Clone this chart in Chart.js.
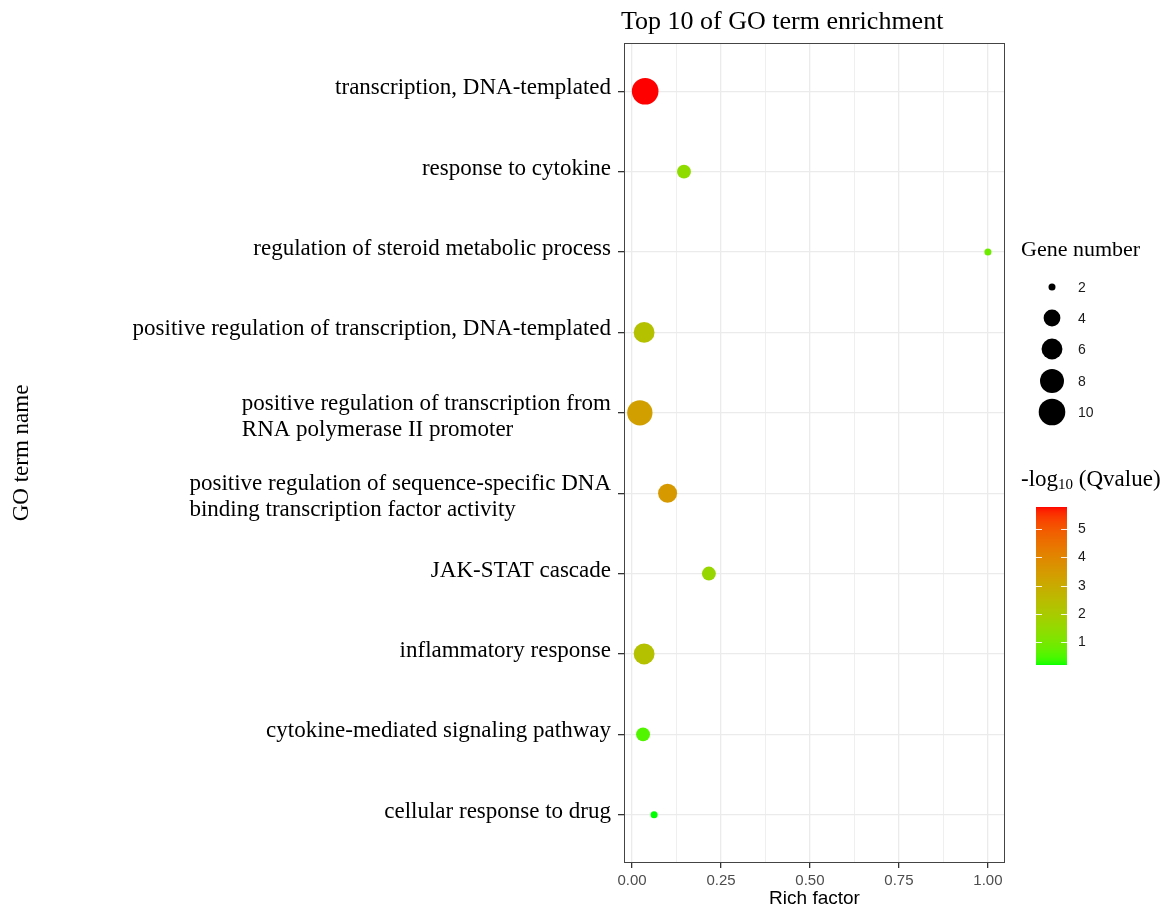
<!DOCTYPE html>
<html>
<head>
<meta charset="utf-8">
<script src="https://cdn.jsdelivr.net/npm/chart.js@4.4.1/dist/chart.umd.min.js"></script>
<style>
  html, body { margin: 0; padding: 0; background: #fff; }
</style>
</head>
<body>
<canvas id="goChart" width="1171" height="911"></canvas>
<script>
// GO terms, top to bottom ("\n" = line break in the axis label)
const terms = [
  'transcription, DNA-templated',
  'response to cytokine',
  'regulation of steroid metabolic process',
  'positive regulation of transcription, DNA-templated',
  'positive regulation of transcription from\nRNA polymerase II promoter',
  'positive regulation of sequence-specific DNA\nbinding transcription factor activity',
  'JAK-STAT cascade',
  'inflammatory response',
  'cytokine-mediated signaling pathway',
  'cellular response to drug'
];
const richFactor = [0.037, 0.146, 1.0, 0.034, 0.022, 0.100, 0.216, 0.034, 0.031, 0.062];
const geneNumber = [10, 3, 2, 6, 9, 5, 3, 6, 3, 2];
const qValue = [5.78, 1.4, 0.85, 2.3, 3.3, 3.5, 1.6, 2.3, 0.55, 0.19];

const xTickLabels = [0, 0.25, 0.5, 0.75, 1];
const sizeBreaks = [2, 4, 6, 8, 10];
const colorBreaks = [1, 2, 3, 4, 5];

const qMin = Math.min(...qValue), qMax = Math.max(...qValue);
const gMin = Math.min(...geneNumber), gMax = Math.max(...geneNumber);

// size scale (area style, like ggplot scale_size)
function radius(g) {
  return 3.5 + 9.8 * Math.sqrt((g - gMin) / (gMax - gMin));
}

// green -> red gradient interpolated in CIELAB
function toLab(r, g, b) {
  const lin = c => { c /= 255; return c <= 0.04045 ? c / 12.92 : Math.pow((c + 0.055) / 1.055, 2.4); };
  const R = lin(r), G = lin(g), B = lin(b);
  const X = (0.4124 * R + 0.3576 * G + 0.1805 * B) / 0.95047;
  const Y = 0.2126 * R + 0.7152 * G + 0.0722 * B;
  const Z = (0.0193 * R + 0.1192 * G + 0.9505 * B) / 1.08883;
  const f = t => t > 0.008856 ? Math.cbrt(t) : 7.787 * t + 16 / 116;
  return [116 * f(Y) - 16, 500 * (f(X) - f(Y)), 200 * (f(Y) - f(Z))];
}
function fromLab(L, a, b) {
  const fy = (L + 16) / 116, fx = fy + a / 500, fz = fy - b / 200;
  const inv = t => t * t * t > 0.008856 ? t * t * t : (t - 16 / 116) / 7.787;
  const X = 0.95047 * inv(fx), Y = inv(fy), Z = 1.08883 * inv(fz);
  let R = 3.2406 * X - 1.5372 * Y - 0.4986 * Z;
  let G = -0.9689 * X + 1.8758 * Y + 0.0415 * Z;
  let B = 0.0557 * X - 0.2040 * Y + 1.0570 * Z;
  const gam = c => {
    c = c <= 0.0031308 ? 12.92 * c : 1.055 * Math.pow(c, 1 / 2.4) - 0.055;
    return Math.round(Math.max(0, Math.min(1, c)) * 255);
  };
  return 'rgb(' + gam(R) + ',' + gam(G) + ',' + gam(B) + ')';
}
const labLow = toLab(0, 255, 0), labHigh = toLab(255, 0, 0);
function qColor(q) {
  const t = Math.max(0, Math.min(1, (q - qMin) / (qMax - qMin)));
  return fromLab(
    labLow[0] + (labHigh[0] - labLow[0]) * t,
    labLow[1] + (labHigh[1] - labLow[1]) * t,
    labLow[2] + (labHigh[2] - labLow[2]) * t
  );
}

const SERIF = '"Liberation Serif", "Times New Roman", serif';
const SANS = '"Liberation Sans", Arial, sans-serif';

const panelPlugin = {
  id: 'panel',
  beforeDatasetsDraw(chart) {
    const { ctx, chartArea: a } = chart;
    ctx.save();
    ctx.strokeStyle = '#444';
    ctx.lineWidth = 1;
    ctx.strokeRect(a.left + 0.5, a.top + 0.5, a.right - a.left - 1, a.bottom - a.top - 1);
    ctx.restore();
  },
  afterDraw(chart) {
    const { ctx, chartArea: a } = chart;
    const ys = chart.scales.y;
    ctx.save();

    // title
    ctx.fillStyle = '#000';
    ctx.font = '26px ' + SERIF;
    ctx.textAlign = 'left';
    ctx.textBaseline = 'alphabetic';
    ctx.fillText('Top 10 of GO term enrichment', a.left - 3, 29);

    // y tick labels (multi-line blocks are left-justified)
    ctx.font = '23px ' + SERIF;
    const right = a.left - 13;
    const lh = 26;
    terms.forEach((t, i) => {
      const lines = t.split('\n');
      const y = ys.getPixelForValue(i);
      const w = Math.max(...lines.map(l => ctx.measureText(l).width));
      lines.forEach((l, k) => {
        if (lines.length === 1) {
          ctx.textAlign = 'right';
          ctx.fillText(l, right, y + 3);
        } else {
          ctx.textAlign = 'left';
          ctx.fillText(l, right - w, y - (lines.length - 1) * lh / 2 + 10 + k * lh);
        }
      });
    });

    // size legend
    const lx = 1021;
    ctx.textAlign = 'left';
    ctx.font = '22px ' + SERIF;
    ctx.fillText('Gene number', lx, 256);
    const sizeY = [287, 318, 349, 381, 412];
    sizeBreaks.forEach((g, i) => {
      ctx.beginPath();
      ctx.fillStyle = '#000';
      ctx.arc(1052, sizeY[i], radius(g), 0, Math.PI * 2);
      ctx.fill();
      ctx.font = '14px ' + SANS;
      ctx.fillStyle = '#1a1a1a';
      ctx.textBaseline = 'middle';
      ctx.fillText(String(g), 1078, sizeY[i] + 1);
      ctx.textBaseline = 'alphabetic';
    });

    // colour legend title: -log10 (Qvalue)
    ctx.fillStyle = '#000';
    ctx.font = '23px ' + SERIF;
    let tx = lx;
    ctx.fillText('-log', tx, 486);
    tx += ctx.measureText('-log').width;
    ctx.font = '15px ' + SERIF;
    ctx.fillText('10', tx, 489);
    tx += ctx.measureText('10').width;
    ctx.font = '23px ' + SERIF;
    ctx.fillText(' (Qvalue)', tx, 486);

    // colour bar
    const bx = 1036, bw = 31, bTop = 507, bBot = 665;
    for (let py = bTop; py < bBot; py++) {
      const q = qMax - (py + 0.5 - bTop) / (bBot - bTop) * (qMax - qMin);
      ctx.fillStyle = qColor(q);
      ctx.fillRect(bx, py, bw, 1);
    }
    ctx.strokeStyle = 'rgba(255,255,255,0.9)';
    ctx.lineWidth = 1;
    ctx.font = '14px ' + SANS;
    ctx.textBaseline = 'middle';
    colorBreaks.forEach(q => {
      const py = Math.round(bBot - (q - qMin) / (qMax - qMin) * (bBot - bTop)) + 0.5;
      ctx.beginPath();
      ctx.moveTo(bx, py); ctx.lineTo(bx + 6, py);
      ctx.moveTo(bx + bw - 6, py); ctx.lineTo(bx + bw, py);
      ctx.stroke();
      ctx.fillStyle = '#1a1a1a';
      ctx.fillText(String(q), 1078, py);
    });
    ctx.restore();
  }
};

const points = terms.map((t, i) => ({ x: richFactor[i], y: i, r: radius(geneNumber[i]) }));
const isMajor = v => xTickLabels.some(m => Math.abs(m - v) < 1e-6);

new Chart(document.getElementById('goChart'), {
  type: 'bubble',
  data: {
    datasets: [{
      data: points,
      backgroundColor: qValue.map(qColor),
      borderWidth: 0,
      hoverRadius: 0
    }]
  },
  options: {
    responsive: false,
    animation: false,
    events: [],
    layout: { autoPadding: false, padding: { top: 43, right: 166, left: 0, bottom: 0 } },
    plugins: { legend: { display: false }, tooltip: { enabled: false } },
    scales: {
      x: {
        type: 'linear',
        min: -0.0225,
        max: 1.048,
        afterBuildTicks: s => { s.ticks = [0, 1, 2, 3, 4, 5, 6, 7, 8].map(k => ({ value: k * 0.125 })); },
        afterFit: s => { s.height = 48; },
        border: { display: false },
        grid: {
          color: '#EBEBEB',
          lineWidth: c => (c.tick && isMajor(c.tick.value)) ? 1.3 : 0.8,
          tickLength: 5,
          tickColor: c => (c.tick && isMajor(c.tick.value)) ? '#333' : 'rgba(0,0,0,0)'
        },
        ticks: {
          autoSkip: false,
          maxRotation: 0,
          padding: 4,
          color: '#4D4D4D',
          font: { family: SANS, size: 15 },
          callback: v => isMajor(v) ? v.toFixed(2) : ''
        },
        title: {
          display: true,
          text: 'Rich factor',
          color: '#000',
          font: { family: SANS, size: 19 },
          padding: { top: 0, bottom: 1 }
        }
      },
      y: {
        type: 'linear',
        reverse: true,
        min: -0.6,
        max: 9.6,
        afterBuildTicks: s => { s.ticks = terms.map((t, i) => ({ value: i })); },
        afterFit: s => { s.width = 624; },
        border: { display: false },
        grid: { color: '#EBEBEB', lineWidth: 1.3, tickLength: 6, tickColor: '#333' },
        ticks: { autoSkip: false, padding: 0, callback: () => '' },
        title: {
          display: true,
          text: 'GO term name',
          color: '#000',
          font: { family: SERIF, size: 23 },
          padding: { top: 8, bottom: 0 }
        }
      }
    }
  },
  plugins: [panelPlugin]
});
</script>
</body>
</html>
